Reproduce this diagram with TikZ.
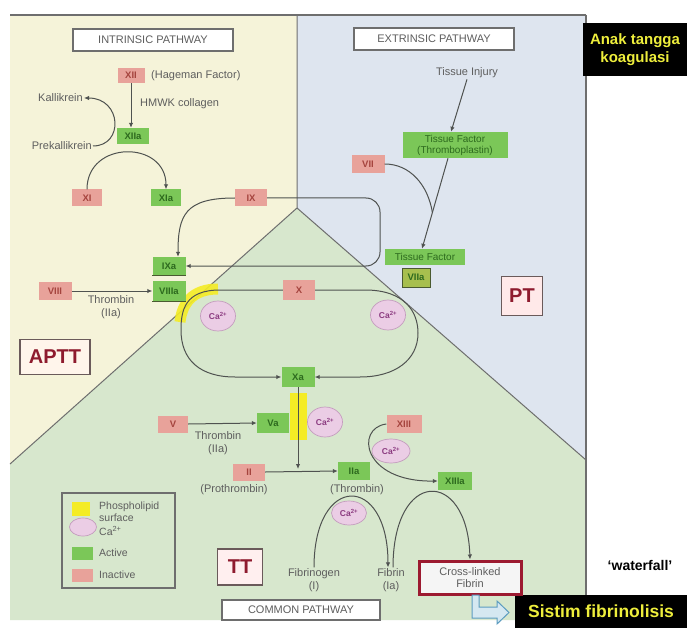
\documentclass[tikz,border=0pt]{standalone}
\usepackage{fontspec}
\setmainfont{Liberation Sans}
\usetikzlibrary{shapes.geometric,arrows.meta,calc}
\definecolor{bgyel}{HTML}{F5F3D9}
\definecolor{bgblu}{HTML}{DEE5EF}
\definecolor{bggrn}{HTML}{D7E7CD}
\definecolor{inactf}{HTML}{E8A29A}
\definecolor{inactt}{HTML}{A5443E}
\definecolor{actf}{HTML}{7BC758}
\definecolor{actt}{HTML}{2D6A1E}
\definecolor{caf}{HTML}{EBCDE5}
\definecolor{cad}{HTML}{C49DBE}
\definecolor{cat}{HTML}{8B3B80}
\definecolor{lblc}{HTML}{5E5E5E}
\definecolor{linec}{HTML}{4F5250}
\definecolor{framec}{HTML}{6E6E6E}
\definecolor{tagd}{HTML}{6A5A5A}
\definecolor{tagt}{HTML}{8E1B2E}
\definecolor{crim}{HTML}{9C1A30}
\definecolor{phos}{HTML}{F4EC25}
\definecolor{ylw}{HTML}{EEEE3C}
\definecolor{olivef}{HTML}{A7BF4E}
\definecolor{hfill}{HTML}{D5E8F1}
\definecolor{hdraw}{HTML}{5C9CC0}
\definecolor{darkln}{HTML}{4A5A30}
\newcommand\lblfont{\fontsize{11}{12.5}\selectfont}
\begin{document}
\begin{tikzpicture}[x=1pt,y=-1pt,
  inact/.style={fill=inactf, text=inactt, minimum width=30pt, minimum height=17pt, inner sep=1pt, font=\fontsize{9.5}{10}\selectfont\bfseries},
  act/.style={fill=actf, text=actt, minimum width=30pt, minimum height=17pt, inner sep=1pt, font=\fontsize{9.5}{10}\selectfont\bfseries},
  ca/.style={ellipse, fill=caf, draw=cad, line width=0.7pt, minimum width=35pt, minimum height=30pt, inner sep=0pt, text=cat, font=\fontsize{8.5}{9}\selectfont\bfseries},
  lbl/.style={text=lblc, font=\lblfont, inner sep=1pt, align=center},
  lgtxt/.style={text=lblc, font=\fontsize{10.5}{12}\selectfont, inner sep=1pt, align=left, anchor=west},
  arr/.style={draw=linec, line width=1pt, -{Latex[length=5pt,width=4.5pt]}},
  ln/.style={draw=linec, line width=1pt},
  pathbox/.style={draw=framec, line width=1.5pt, fill=white, text=lblc, minimum width=160pt, minimum height=22pt, font=\fontsize{11}{12}\selectfont},
  tag/.style={draw=tagd, line width=1.2pt, text=tagt, font=\fontsize{20}{22}\selectfont\bfseries, inner sep=2pt},
  blackbox/.style={fill=black, text=ylw, align=center, inner sep=2pt}
]
\useasboundingbox (0,0) rectangle (687,628);
\fill[white] (0,0) rectangle (687,628);
% backgrounds
\fill[bgyel] (10,15) -- (297,15) -- (297,208) -- (10,464) -- cycle;
\fill[bgblu] (297,15) -- (586,15) -- (586,460) -- (297,208) -- cycle;
\fill[bggrn] (297,208) -- (586,460) -- (586,620) -- (10,620) -- (10,464) -- cycle;
\draw[framec, line width=1pt] (297,15) -- (297,208) -- (10,464);
\draw[framec, line width=1pt] (297,208) -- (586,460);
\draw[framec, line width=2pt] (10,15) -- (586,15);
\draw[framec, line width=1.5pt] (586,15) -- (586,620);
% phospholipid surfaces
\draw[phos, line width=11pt, opacity=0.9] (218,289) .. controls (192,289) and (182,304) .. (180,322);
\fill[phos] (290,393) rectangle (307,440);

% headers
\node[pathbox] (intr) at (153,40) {INTRINSIC PATHWAY};
\node[pathbox] (extr) at (434,39) {EXTRINSIC PATHWAY};
\node[pathbox, minimum width=158pt, minimum height=20pt] (comm) at (301,610) {COMMON PATHWAY};
\node[blackbox, minimum width=104pt, minimum height=53pt, font=\fontsize{15}{18}\selectfont\bfseries] (anak) at (635,49.5) {Anak tangga\\koagulasi};
\node[blackbox, minimum width=172pt, minimum height=33pt, font=\fontsize{17.5}{20}\selectfont\bfseries] (sistim) at (601,611.5) {Sistim fibrinolisis};
\node[font=\fontsize{14}{16}\selectfont\bfseries, text=black] (wf) at (640,565) {`waterfall'};

% intrinsic
\node[inact, minimum width=27pt, minimum height=15pt] (fxii) at (131,75.5) {XII};
\node[lbl, anchor=west] (hag) at (150,75.5) {(Hageman Factor)};
\node[act, minimum width=32pt, minimum height=16pt] (fxiia) at (133,136) {XIIa};
\node[lbl, anchor=west] (hmwk) at (139,104) {HMWK collagen};
\node[lbl, anchor=east] (kal) at (84,98) {Kallikrein};
\node[lbl, anchor=east] (prek) at (93,146) {Prekallikrein};
\node[inact] (fxi) at (87,198) {XI};
\node[act] (fxia) at (166,198) {XIa};
\node[inact, minimum width=32pt] (fix) at (251,198) {IX};
\node[act, minimum width=33pt, minimum height=18pt] (fixa) at (169,266) {IXa};
\node[act, minimum width=33pt, minimum height=20pt] (fviiia) at (169,291) {VIIIa};
\draw[darkln, line width=1.3pt] (fixa.south west) -- (fixa.south east);
\draw[darkln, line width=1.3pt] (fviiia.south west) -- (fviiia.south east);
\node[inact, minimum width=33pt, minimum height=18pt] (fviii) at (55,291) {VIII};
\node[lbl] (thr1) at (111,307) {Thrombin\\(IIa)};

% extrinsic
\node[lbl] (inj) at (467,73) {Tissue Injury};
\node[act, minimum width=105pt, minimum height=26pt, align=center, font=\fontsize{10}{11}\selectfont] (tf) at (455,145) {Tissue Factor\\(Thromboplastin)};
\node[inact, minimum width=33pt, minimum height=18pt] (fvii) at (368,164) {VII};
\node[act, minimum width=80pt, minimum height=16pt, font=\fontsize{10}{11}\selectfont] (tff) at (425,257) {Tissue Factor};
\node[fill=olivef, draw=darkln, line width=0.8pt, text=actt, minimum width=28pt, minimum height=19pt, inner sep=1pt, font=\fontsize{9.5}{10}\selectfont\bfseries] (fviia) at (416,277.5) {VIIa};
\node[tag, fill=pink!35!white, minimum width=41pt, minimum height=39pt] (pt) at (522,296) {PT};
\node[tag, fill=orange!8!white, minimum width=70pt, minimum height=35pt] (aptt) at (55,357) {APTT};

% common
\node[inact, minimum width=32pt, minimum height=20pt] (fx) at (299,290) {X};
\node[act, minimum width=33pt, minimum height=20pt] (fxa) at (298,377) {Xa};
\node[ca] (ca1) at (218,316) {Ca\textsuperscript{2+}};
\node[ca] (ca2) at (388,315) {Ca\textsuperscript{2+}};
\node[inact] (fv) at (173,424) {V};
\node[act, minimum width=32pt, minimum height=20pt] (fva) at (273,423) {Va};
\node[ca] (ca3) at (325,422) {Ca\textsuperscript{2+}};
\node[lbl] (thr2) at (218,443) {Thrombin\\(IIa)};
\node[inact, minimum width=32pt] (fii) at (249,472) {II};
\node[lbl] (proth) at (234,490) {(Prothrombin)};
\node[act, minimum width=32pt, minimum height=18pt] (fiia) at (354,471) {IIa};
\node[lbl] (thrl) at (357,490) {(Thrombin)};
\node[inact, minimum width=35pt, minimum height=18pt] (fxiii) at (404,424) {XIII};
\node[ca, minimum width=38pt, minimum height=24pt] (ca4) at (391,451) {Ca\textsuperscript{2+}};
\node[act, minimum width=34pt, minimum height=18pt] (fxiiia) at (455,481) {XIIIa};
\node[ca, minimum width=35pt, minimum height=24pt] (ca5) at (349,513) {Ca\textsuperscript{2+}};
\node[lbl] (fgn) at (314,580) {Fibrinogen\\(I)};
\node[lbl] (fbn) at (391,580) {Fibrin\\(Ia)};
\node[lbl, draw=crim, line width=3pt, fill=white!92!gray, minimum width=102pt, minimum height=33pt] (clf) at (470,577.5) {Cross-linked\\Fibrin};
\node[tag, fill=pink!25!white, minimum width=45pt, minimum height=36pt] (tt) at (240,567) {TT};

% legend
\draw[framec, line width=1.5pt] (62,493) rectangle (175,588);
\node[fill=phos, minimum width=18pt, minimum height=14pt, inner sep=0pt] (lgp) at (81,509) {};
\node[lgtxt] (lgpt) at (98,512) {Phospholipid\\surface};
\node[ca, minimum width=27pt, minimum height=18pt] (lgc) at (83,527) {};
\node[lgtxt] (lgct) at (98,531) {Ca\textsuperscript{2+}};
\node[fill=actf, minimum width=21pt, minimum height=13pt, inner sep=0pt] (lga) at (82,553) {};
\node[lgtxt] (lgat) at (98,553) {Active};
\node[fill=inactf, minimum width=21pt, minimum height=13pt, inner sep=0pt] (lgi) at (82,575) {};
\node[lgtxt] (lgit) at (98,575) {Inactive};

% connectors
\draw[arr] (fxii.south) -- (fxii.south |- fxiia.north);
\draw[arr] (prek.east) .. controls (124,146) and (122,98) .. (kal.east);
\draw[arr] (fxi.north) .. controls (87,140) and (166,140) .. (fxia.north);
\draw[arr] (fix.west) .. controls (185,198) and (178,215) .. ([xshift=9pt]fixa.north);
\draw[arr, rounded corners=14pt] (fix.east) -- (380,198) -- (380,266) -- (fixa.east);
\draw[arr] (fviii.east) -- (fviiia.west);
\draw[arr] (inj.south) -- ([xshift=-4pt]tf.north);
\draw[arr] ([xshift=-7pt]tf.south) -- coordinate[pos=0.6] (mrg) ([xshift=-3pt]tff.north);
\draw[ln] (fvii.east) .. controls (410,164) and (428,185) .. (mrg);
\draw[arr] (fx.west) -- (220,290) .. controls (185,290) and (181,310) .. (181,330) .. controls (181,360) and (200,377) .. (235,377) -- (fxa.west);
\draw[arr] (fx.east) -- (365,290) .. controls (405,290) and (418,312) .. (418,333) .. controls (418,360) and (395,377) .. (360,377) -- (fxa.east);
\draw[arr] (fv.east) -- (fva.west);
\draw[arr] (fxa.south) -- ($(fxa.south |- fii.east)+(0,-3)$);
\draw[arr] (fii.east) -- (fiia.west);
\draw[arr] (fxiii.west) .. controls (355,428) and (362,482) .. (fxiiia.west);
\draw[arr] (fgn.north) .. controls (314,473) and (388,473) .. ([xshift=-3pt]fbn.north);
\draw[arr] ([xshift=2pt]fbn.north) .. controls (393,468) and (467,468) .. (clf.north);
\filldraw[fill=hfill, draw=hdraw, line width=1pt] (472,595) -- (479,595) -- (479,607) -- (497,607) -- (497,601) -- (509,612.5) -- (497,624) -- (497,618) -- (472,618) -- cycle;
\end{tikzpicture}
\end{document}
